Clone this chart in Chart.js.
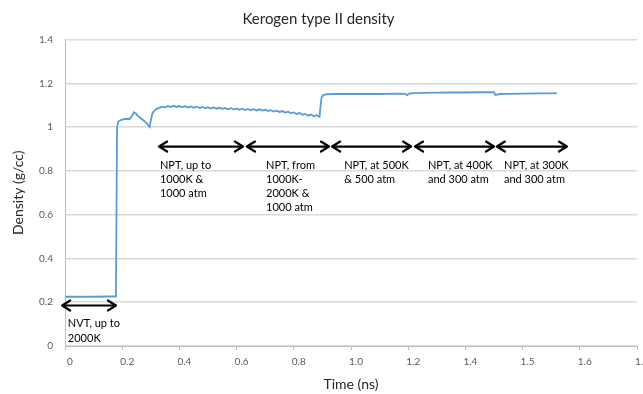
<!DOCTYPE html>
<html>
<head>
<meta charset="utf-8">
<script src="https://cdn.jsdelivr.net/npm/chart.js@4"></script>
<style>
  html, body { margin: 0; padding: 0; background: #ffffff; }
  #wrap { width: 643px; height: 394px; }
</style>
</head>
<body>
<div id="wrap"><canvas id="c" width="643" height="394"></canvas></div>
<script>
// ---- data ----
const xTickLabels = ["0", "0.2", "0.4", "0.6", "0.8", "1.0", "1.2", "1.4", "1.5", "1.6", "1.8"];

const time = [
  0, 0.05, 0.10, 0.15, 0.178, 0.180, 0.182, 0.186, 0.195, 0.205, 0.215, 0.225, 0.232, 0.241, 0.248,
  0.255, 0.265, 0.275, 0.285, 0.292, 0.296, 0.300, 0.305, 0.312, 0.320,
  0.33, 0.34, 0.35, 0.36, 0.37, 0.38, 0.39, 0.40, 0.41, 0.42, 0.43, 0.44, 0.45, 0.46, 0.47, 0.48, 0.49,
  0.50, 0.51, 0.52, 0.53, 0.54, 0.55, 0.56, 0.57, 0.58, 0.59, 0.60, 0.61, 0.62, 0.63, 0.64, 0.65, 0.66,
  0.67, 0.68, 0.69, 0.70, 0.71, 0.72, 0.73, 0.74, 0.75, 0.76, 0.77, 0.78, 0.79, 0.80, 0.81, 0.82, 0.83,
  0.84, 0.85, 0.86, 0.87, 0.88, 0.89,
  0.893, 0.897, 0.903, 0.915, 0.95, 1.00, 1.05, 1.10, 1.15, 1.19, 1.196, 1.205, 1.25, 1.30, 1.35, 1.40,
  1.45, 1.50, 1.505, 1.52, 1.55, 1.60, 1.65, 1.70, 1.72
];
const density = [
  0.225, 0.225, 0.225, 0.226, 0.226, 0.600, 1.000, 1.025, 1.032, 1.036, 1.038, 1.037, 1.045, 1.068, 1.062,
  1.050, 1.040, 1.030, 1.018, 1.006, 1.000, 1.030, 1.060, 1.075, 1.083,
  1.088, 1.093, 1.090, 1.096, 1.091, 1.097, 1.092, 1.096, 1.090, 1.095, 1.089, 1.094, 1.088, 1.093, 1.087, 1.092, 1.086,
  1.091, 1.085, 1.090, 1.084, 1.088, 1.083, 1.087, 1.081, 1.086, 1.080, 1.085, 1.079, 1.084, 1.078, 1.083, 1.077, 1.082,
  1.076, 1.081, 1.075, 1.079, 1.073, 1.077, 1.071, 1.075, 1.069, 1.073, 1.066, 1.070, 1.064, 1.067, 1.060, 1.064, 1.056,
  1.060, 1.052, 1.057, 1.049, 1.054, 1.047,
  1.090, 1.135, 1.146, 1.150, 1.152, 1.151, 1.152, 1.151, 1.153, 1.152, 1.145, 1.154, 1.156, 1.157, 1.158, 1.158,
  1.159, 1.159, 1.147, 1.151, 1.152, 1.153, 1.154, 1.154, 1.155
];

// annotation arrows (time range, density level) and their labels
const arrowStart = [-0.010, 0.329, 0.636, 0.934, 1.224, 1.510];
const arrowEnd   = [ 0.178, 0.622, 0.923, 1.210, 1.500, 1.755];
const arrowLevel = [ 0.185, 0.911, 0.911, 0.911, 0.911, 0.911];
const labelTime  = [ 0.010, 0.332, 0.703, 0.976, 1.269, 1.535];
const labelLines = [
  ["NVT, up to", "2000K"],
  ["NPT, up to", "1000K &", "1000 atm"],
  ["NPT, from", "1000K-", "2000K &", "1000 atm"],
  ["NPT, at 500K", "& 500 atm"],
  ["NPT, at 400K", "and 300 atm"],
  ["NPT, at 300K", "and 300 atm"]
];

const FONT = "Lato, 'Open Sans', sans-serif";

const annotations = {
  id: 'annotations',
  afterDatasetsDraw(chart) {
    const ctx = chart.ctx;
    const xs = chart.scales.x, ys = chart.scales.y;
    ctx.save();
    ctx.strokeStyle = '#000';
    ctx.fillStyle = '#000';
    ctx.lineWidth = 2.2;
    ctx.lineCap = 'round';
    ctx.lineJoin = 'round';
    for (let i = 0; i < arrowStart.length; i++) {
      const x1 = xs.getPixelForValue(arrowStart[i]);
      const x2 = xs.getPixelForValue(arrowEnd[i]);
      const y = ys.getPixelForValue(arrowLevel[i]);
      ctx.beginPath();
      ctx.moveTo(x1 + 1, y); ctx.lineTo(x2 - 1, y);
      ctx.stroke();
      // heads
      ctx.beginPath();
      ctx.moveTo(x1 + 8, y - 5); ctx.lineTo(x1, y); ctx.lineTo(x1 + 8, y + 5);
      ctx.moveTo(x2 - 8, y - 5); ctx.lineTo(x2, y); ctx.lineTo(x2 - 8, y + 5);
      ctx.stroke();
      // label
      ctx.font = "11px " + FONT;
      ctx.textAlign = 'left';
      ctx.textBaseline = 'alphabetic';
      const lx = xs.getPixelForValue(labelTime[i]);
      labelLines[i].forEach((t, k) => ctx.fillText(t, lx, y + 22 + k * 14.3));
    }
    ctx.restore();
  }
};

new Chart(document.getElementById('c'), {
  type: 'line',
  data: {
    datasets: [{
      data: time.map((t, i) => ({ x: t, y: density[i] })),
      borderColor: '#5b9bd5',
      borderWidth: 1.8,
      pointRadius: 0,
      fill: false,
      tension: 0
    }]
  },
  options: {
    responsive: false,
    animation: false,
    devicePixelRatio: 1,
    layout: { padding: { left: 0, right: 6, top: 0, bottom: 0 } },
    plugins: {
      legend: { display: false },
      tooltip: { enabled: false },
      title: {
        display: true,
        text: 'Kerogen type II density',
        color: '#262626',
        font: { family: FONT, size: 15, weight: 'normal' },
        padding: { top: 10, bottom: 11.5 }
      }
    },
    scales: {
      x: {
        type: 'linear',
        min: 0, max: 2.0,
        afterBuildTicks(scale) {
          scale.ticks = xTickLabels.map((l, i) => ({ value: i * 0.2 }));
        },
        ticks: {
          callback: (v, i) => xTickLabels[i],
          color: '#595959',
          font: { family: FONT, size: 10 },
          padding: 6,
          labelOffset: 5,
          maxRotation: 0,
          autoSkip: false
        },
        grid: { display: true, drawOnChartArea: false, drawTicks: true, tickLength: 4, color: '#bfbfbf' },
        border: { display: true, color: '#bfbfbf', width: 1 },
        title: {
          display: true, text: 'Time (ns)', color: '#262626',
          font: { family: FONT, size: 14 }, padding: { top: 0, bottom: 1 }
        },
        afterFit(s) { s.height = 48; s.paddingLeft = 0; s.paddingRight = 0; }
      },
      y: {
        type: 'linear',
        min: 0, max: 1.4,
        ticks: {
          stepSize: 0.2,
          callback: v => String(Number(v.toFixed(2))),
          color: '#595959',
          font: { family: FONT, size: 10 },
          padding: 12
        },
        grid: { color: '#d9d9d9', lineWidth: 1.5, drawTicks: false },
        border: { display: true, color: '#bfbfbf', width: 1 },
        title: {
          display: true, text: 'Density (g/cc)', color: '#262626',
          font: { family: FONT, size: 14 }, padding: { top: 10, bottom: 0 }
        },
        afterFit(s) { s.width = 65; s.paddingTop = 0; s.paddingBottom = 0; }
      }
    }
  },
  plugins: [annotations]
});
</script>
</body>
</html>
